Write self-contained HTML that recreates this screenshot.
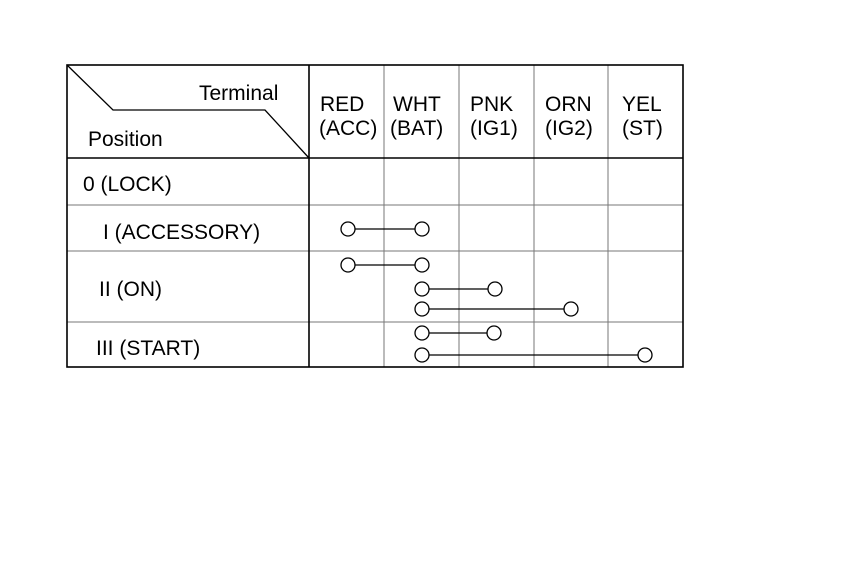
<!DOCTYPE html>
<html><head><style>body{margin:0;background:#fff}</style></head><body>
<svg width="860" height="563" xmlns="http://www.w3.org/2000/svg" font-family="Liberation Sans, sans-serif" font-size="21" fill="#000">
<rect x="0" y="0" width="860" height="563" fill="#fff"/>
<g stroke="#777" stroke-width="1">
<line x1="384" y1="65" x2="384" y2="367"/><line x1="459" y1="65" x2="459" y2="367"/>
<line x1="534" y1="65" x2="534" y2="367"/><line x1="608" y1="65" x2="608" y2="367"/>
<line x1="67" y1="205" x2="683" y2="205"/><line x1="67" y1="251" x2="683" y2="251"/>
<line x1="67" y1="322" x2="683" y2="322"/>
</g>
<g stroke="#000" stroke-width="1.6" fill="none">
<rect x="67" y="65" width="616" height="302"/>
<line x1="67" y1="158" x2="683" y2="158"/>
<line x1="309" y1="65" x2="309" y2="367"/>
<polyline points="67,65 113,110 265,110 309,158" stroke-width="1.3"/>
</g>
<text x="199" y="100">Terminal</text>
<text x="88" y="146">Position</text>
<text x="320" y="111">RED</text><text x="319" y="135">(ACC)</text>
<text x="393" y="111">WHT</text><text x="390" y="135">(BAT)</text>
<text x="470" y="111">PNK</text><text x="470" y="135">(IG1)</text>
<text x="545" y="111">ORN</text><text x="545" y="135">(IG2)</text>
<text x="622" y="111">YEL</text><text x="622" y="135">(ST)</text>
<text x="83" y="191">0 (LOCK)</text>
<text x="103" y="239">I (ACCESSORY)</text>
<text x="99" y="296">II (ON)</text>
<text x="96" y="355">III (START)</text>
<g stroke="#000" stroke-width="1.3" fill="#fff">
<line x1="348" y1="229" x2="422" y2="229"/><circle cx="348" cy="229" r="7"/><circle cx="422" cy="229" r="7"/>
<line x1="348" y1="265" x2="422" y2="265"/><circle cx="348" cy="265" r="7"/><circle cx="422" cy="265" r="7"/>
<line x1="422" y1="289" x2="495" y2="289"/><circle cx="422" cy="289" r="7"/><circle cx="495" cy="289" r="7"/>
<line x1="422" y1="309" x2="571" y2="309"/><circle cx="422" cy="309" r="7"/><circle cx="571" cy="309" r="7"/>
<line x1="422" y1="333" x2="494" y2="333"/><circle cx="422" cy="333" r="7"/><circle cx="494" cy="333" r="7"/>
<line x1="422" y1="355" x2="645" y2="355"/><circle cx="422" cy="355" r="7"/><circle cx="645" cy="355" r="7"/>
</g>
</svg>
</body></html>
